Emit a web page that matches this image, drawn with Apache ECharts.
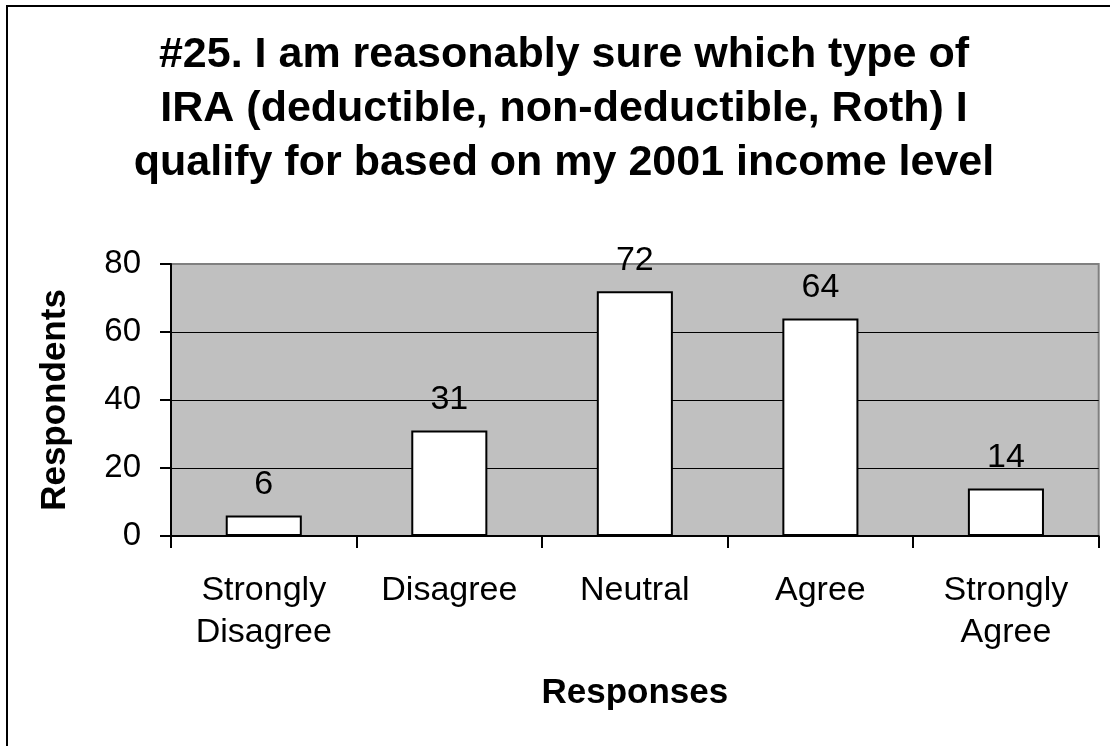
<!DOCTYPE html>
<html>
<head>
<meta charset="utf-8">
<script src="https://cdn.jsdelivr.net/npm/echarts@6/dist/echarts.min.js"></script>
<style>
html,body{margin:0;padding:0;background:#fff;}
#chart{width:1110px;height:746px;}
</style>
</head>
<body>
<div id="chart"></div>
<script>
const titleText = "#25. I am reasonably sure which type of\nIRA (deductible, non-deductible, Roth) I\nqualify for based on my 2001 income level";
const categories = ["Strongly\nDisagree", "Disagree", "Neutral", "Agree", "Strongly\nAgree"];
const respondents = [6, 31, 72, 64, 14];
const yTicks = [0, 20, 40, 60, 80];
const xAxisTitle = "Responses";
const yAxisTitle = "Respondents";

const FONT = "'Liberation Sans', Arial, sans-serif";
const chart = echarts.init(document.getElementById('chart'), null, {renderer: 'canvas'});
chart.setOption({
  backgroundColor: '#ffffff',
  animation: false,
  title: {
    text: titleText,
    left: 564,
    textAlign: 'center',
    top: 28,
    padding: 0,
    textStyle: {fontFamily: FONT, fontSize: 43, fontWeight: 'bold', color: '#000', lineHeight: 54}
  },
  graphic: [{
    type: 'rect',
    shape: {x: 7, y: 6, width: 1300, height: 900},
    style: {fill: null, stroke: '#000', lineWidth: 2},
    silent: true
  }],
  grid: {
    left: 171, right: 11.3, top: 264, bottom: 210,
    show: true, backgroundColor: '#c0c0c0', borderColor: '#808080', borderWidth: 2
  },
  xAxis: {
    type: 'category',
    data: categories,
    name: xAxisTitle,
    nameLocation: 'middle',
    nameGap: 140,
    nameTextStyle: {fontFamily: FONT, fontSize: 35, fontWeight: 'bold', color: '#000'},
    axisLine: {lineStyle: {color: '#000', width: 2}},
    axisTick: {show: true, length: 12, lineStyle: {color: '#000', width: 2}},
    axisLabel: {fontFamily: FONT, fontSize: 34, color: '#000', lineHeight: 42, margin: 34, interval: 0}
  },
  yAxis: {
    type: 'value',
    min: yTicks[0],
    max: yTicks[yTicks.length - 1],
    interval: yTicks[1] - yTicks[0],
    name: yAxisTitle,
    nameLocation: 'middle',
    nameRotate: 90,
    nameGap: 98,
    nameTextStyle: {fontFamily: FONT, fontSize: 35, fontWeight: 'bold', color: '#000'},
    axisLine: {show: true, lineStyle: {color: '#000', width: 2}},
    axisTick: {show: true, length: 11, lineStyle: {color: '#000', width: 2}},
    axisLabel: {fontFamily: FONT, fontSize: 33, color: '#000', margin: 30},
    splitLine: {show: true, showMinLine: false, showMaxLine: false, lineStyle: {color: '#000', width: 1}}
  },
  series: [{
    type: 'bar',
    data: respondents,
    barWidth: '41%',
    itemStyle: {color: '#ffffff', borderColor: '#000', borderWidth: 2},
    label: {show: true, position: 'top', distance: 14, fontFamily: FONT, fontSize: 34, color: '#000'}
  }]
});
</script>
</body>
</html>
